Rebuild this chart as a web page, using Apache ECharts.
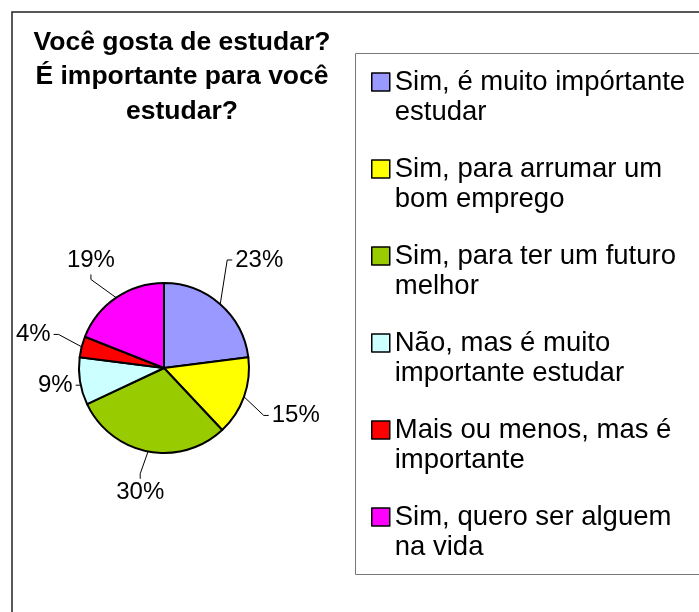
<!DOCTYPE html>
<html>
<head>
  <meta charset="utf-8">
  <title>pie</title>
  <script src="https://cdn.jsdelivr.net/npm/echarts@6/dist/echarts.min.js"></script>
  <style type="text/css">
    html, body, #main {
      height: 100%;
      width: 100%;
      margin: 0;
      padding: 0;
      background: #fff;
    }
  </style>
</head>
<body>
  <div id="main"></div>
  <script>
    // data
    var categories = [
      'Sim, é muito impórtante\nestudar',
      'Sim, para arrumar um\nbom emprego',
      'Sim, para ter um futuro\nmelhor',
      'Não, mas é muito\nimportante estudar',
      'Mais ou menos, mas é\nimportante',
      'Sim, quero ser alguem\nna vida'
    ];
    var values = [23, 15, 30, 9, 4, 19];
    var colors = ['#9999FF', '#FFFF00', '#99CC00', '#CCFFFF', '#FF0000', '#FF00FF'];
    var titleText = 'Você gosta de estudar?\nÉ importante para você\nestudar?';

    // distance of each percent label from the pie centre (px)
    var labelDist = [144, 140, 127, 110, 135, 130];

    var font = "'Liberation Sans', Arial, sans-serif";
    var pieCenter = [164, 368];
    var pieRadius = 85;

    var total = values.reduce(function (a, b) { return a + b; }, 0);
    function midAngle(i) {
      var before = 0;
      for (var k = 0; k < i; k++) before += values[k];
      return (90 - 360 * (before + values[i] / 2) / total) * Math.PI / 180;
    }

    var myChart = echarts.init(document.getElementById('main'), null, { renderer: 'canvas' });
    myChart.setOption({
      backgroundColor: '#fff',
      animation: false,
      color: colors,
      graphic: [
        { type: 'rect', silent: true, shape: { x: 12, y: 12, width: 800, height: 700 },
          style: { fill: 'none', stroke: '#222', lineWidth: 1.5 } },
        { type: 'rect', silent: true, shape: { x: 355.5, y: 53.5, width: 400, height: 521 },
          style: { fill: 'none', stroke: '#777', lineWidth: 1 } }
      ],
      title: {
        text: titleText,
        left: 182,
        top: 25,
        padding: 0,
        textAlign: 'center',
        textStyle: { fontFamily: font, fontSize: 26.5, fontWeight: 'bold', color: '#000', lineHeight: 34.5 }
      },
      legend: {
        orient: 'vertical',
        left: 371,
        top: 37,
        padding: 0,
        itemGap: -3,
        itemWidth: 18,
        itemHeight: 18,
        icon: 'rect',
        selectedMode: false,
        data: categories,
        formatter: function (name) { return '\n' + name; },
        itemStyle: { borderColor: '#000', borderWidth: 1.5 },
        textStyle: { fontFamily: font, fontSize: 27.5, color: '#000', lineHeight: 30 }
      },
      series: [{
        type: 'pie',
        center: pieCenter,
        radius: pieRadius,
        startAngle: 90,
        clockwise: true,
        avoidLabelOverlap: false,
        emphasis: { disabled: true },
        itemStyle: { borderColor: '#000', borderWidth: 2 },
        label: {
          show: true,
          position: 'outside',
          formatter: '{d}%',
          fontFamily: font,
          fontSize: 24,
          color: '#000'
        },
        labelLine: { show: true, length: 10, length2: 5, smooth: false, lineStyle: { color: '#000', width: 1 } },
        labelLayout: function (p) {
          var a = midAngle(p.dataIndex);
          var c = Math.cos(a), s = Math.sin(a);
          var w = p.labelRect.width, h = p.labelRect.height;
          var d = labelDist[p.dataIndex];
          var ex = pieCenter[0] + pieRadius * c, ey = pieCenter[1] - pieRadius * s;
          var lx = pieCenter[0] + d * c, ly = pieCenter[1] - d * s;
          var pts;
          if (Math.abs(c) > 0.6) {
            var sx = lx - Math.sign(c) * (w / 2 + 3);
            pts = [[ex, ey], [sx - Math.sign(c) * 5, ly], [sx, ly]];
          } else {
            var sy = ly + Math.sign(s) * (h / 2 + 2);
            pts = [[ex, ey], [lx, sy + Math.sign(s) * 5], [lx, sy]];
          }
          return { x: lx, y: ly, align: 'center', verticalAlign: 'middle', labelLinePoints: pts };
        },
        data: categories.map(function (name, i) {
          return { name: name, value: values[i] };
        })
      }]
    });
  </script>
</body>
</html>
